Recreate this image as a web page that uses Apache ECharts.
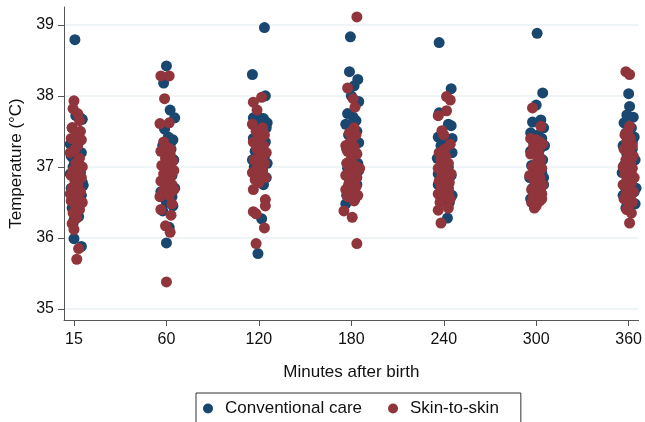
<!DOCTYPE html>
<html>
<head>
<meta charset="utf-8">
<script src="https://cdn.jsdelivr.net/npm/echarts@6/dist/echarts.min.js"></script>
<style>
  html, body { margin: 0; padding: 0; background: #fff; }
  #chart { width: 645px; height: 422px; }
</style>
</head>
<body>
<div id="chart"></div>
<script>
// minutes after birth (evenly spaced categories)
var times = ['15', '60', '120', '180', '240', '300', '360'];
var yTicks = [35, 36, 37, 38, 39];

// [jitter, temperature] per time point, conventional care
var cc15 = [[0.01,38.79],[0.0,35.99],[0.08,35.88],[0.02,37.72],[0.06,37.70],[0.09,37.67],[-0.02,37.55],[0.04,37.48],[-0.04,37.32],[0.03,37.28],[0.08,37.20],[-0.03,37.15],[0.05,37.05],[-0.01,37.00],[0.07,36.92],[0.02,36.85],[0.09,36.78],[0.1,36.74],[-0.03,36.70],[0.04,36.62],[0.01,36.55],[0.06,36.48],[-0.02,36.42],[0.03,36.35],[0.05,36.30],[0.0,36.25],[-0.04,36.9],[0.07,37.38],[0.0,37.1],[0.08,36.6],[-0.01,36.2]];
var cc60 = [[0.0,38.42],[-0.03,38.18],[0.04,37.80],[0.09,37.69],[-0.02,37.53],[0.07,37.38],[0.02,37.42],[-0.04,37.30],[0.05,37.25],[0.01,37.15],[0.08,37.10],[-0.03,37.02],[0.03,36.95],[0.06,36.88],[-0.05,36.80],[0.02,36.72],[0.09,36.70],[-0.02,36.62],[0.04,36.55],[0.0,36.5],[0.07,36.45],[-0.04,36.38],[0.03,36.15],[0.0,35.93],[0.05,37.35],[-0.06,36.65],[0.06,36.58],[0.01,37.2]];
var cc120 = [[0.06,38.96],[-0.07,38.3],[0.07,38.0],[-0.06,37.69],[0.0,37.70],[0.05,37.68],[0.09,37.62],[-0.03,37.58],[0.03,37.50],[-0.06,37.40],[0.07,37.35],[0.0,37.30],[-0.04,37.22],[0.06,37.15],[0.02,37.10],[0.09,37.05],[-0.05,37.00],[0.04,36.95],[-0.02,36.90],[0.08,36.85],[0.0,36.80],[0.05,36.75],[-0.03,36.9],[0.03,36.27],[-0.01,35.78],[0.02,37.45],[-0.07,37.1],[0.08,37.55]];
var cc180 = [[-0.01,38.83],[-0.02,38.34],[0.07,38.23],[0.03,38.14],[0.0,38.0],[0.08,37.92],[-0.04,37.75],[0.02,37.70],[0.05,37.65],[-0.06,37.60],[0.0,37.55],[0.06,37.50],[-0.03,37.45],[0.03,37.40],[0.08,37.34],[-0.05,37.25],[0.01,37.15],[0.07,37.05],[-0.04,36.98],[0.03,36.90],[-0.02,36.82],[0.06,36.75],[0.0,36.68],[-0.05,36.6],[0.04,36.55],[-0.06,36.48],[0.02,36.62],[0.05,37.2],[0.08,36.95]];
var cc240 = [[-0.05,38.75],[0.08,38.10],[-0.05,37.76],[0.08,37.58],[0.05,37.6],[-0.06,37.42],[0.0,37.38],[0.06,37.35],[-0.03,37.30],[0.03,37.25],[0.09,37.20],[-0.07,37.12],[0.0,37.05],[0.05,37.0],[-0.04,36.95],[0.08,36.88],[0.02,36.82],[-0.06,36.75],[0.05,36.70],[0.0,36.65],[0.09,36.6],[-0.03,36.55],[0.06,36.5],[0.04,36.28],[-0.02,37.15],[0.09,37.4],[-0.06,36.9]];
var cc300 = [[0.01,38.88],[0.07,38.04],[0.0,37.87],[-0.04,37.63],[0.05,37.66],[0.08,37.55],[-0.06,37.48],[0.02,37.45],[0.06,37.40],[-0.03,37.35],[0.09,37.30],[-0.06,37.22],[0.03,37.15],[0.07,37.10],[-0.05,37.02],[0.0,36.98],[0.06,36.92],[-0.07,36.85],[0.03,36.80],[0.08,36.75],[-0.04,36.70],[0.05,36.65],[0.0,36.6],[-0.06,36.55],[0.04,37.25],[0.08,36.85]];
var cc360 = [[0.0,38.03],[0.01,37.85],[-0.02,37.73],[0.05,37.7],[-0.05,37.62],[0.03,37.55],[-0.03,37.48],[0.06,37.42],[0.0,37.38],[-0.06,37.30],[0.04,37.25],[-0.02,37.18],[0.07,37.1],[-0.05,37.02],[0.02,36.98],[-0.07,36.92],[0.05,36.85],[0.0,36.78],[-0.04,36.72],[0.06,36.65],[-0.06,36.6],[0.02,36.55],[0.07,36.48],[-0.03,36.42],[0.04,37.35],[0.08,36.7]];

// skin-to-skin
var ss15 = [[0.0,37.93],[-0.01,37.82],[0.04,37.75],[0.06,37.65],[-0.02,37.55],[0.07,37.50],[0.03,37.45],[-0.03,37.40],[0.08,37.38],[0.01,37.25],[-0.04,37.20],[0.06,37.12],[0.02,37.05],[0.09,37.0],[-0.01,36.95],[0.05,36.92],[-0.03,36.88],[0.08,36.85],[0.01,36.80],[0.04,36.75],[-0.02,36.70],[0.07,36.65],[0.0,36.60],[0.05,36.55],[-0.03,36.52],[0.09,36.50],[0.02,36.45],[0.06,36.40],[-0.01,36.35],[0.03,36.28],[-0.02,36.20],[0.0,36.12],[0.05,35.85],[0.03,35.70],[-0.04,36.62],[0.04,37.3]];
var ss60 = [[-0.06,38.28],[0.03,38.28],[-0.02,37.96],[0.03,37.62],[-0.07,37.61],[-0.03,37.35],[0.0,37.28],[-0.06,37.22],[0.04,37.18],[-0.01,37.12],[0.07,37.08],[-0.05,37.02],[0.02,36.98],[0.08,36.95],[-0.03,36.90],[0.05,36.88],[0.0,36.85],[-0.06,36.80],[0.06,36.75],[0.02,36.70],[-0.04,36.65],[0.08,36.68],[-0.07,36.58],[0.03,36.60],[0.06,36.48],[-0.06,36.40],[0.05,36.32],[-0.01,36.17],[0.04,36.08],[0.0,35.38],[0.01,37.05],[-0.02,36.78],[0.04,37.25]];
var ss120 = [[0.03,37.98],[-0.06,37.91],[-0.02,37.80],[-0.07,37.60],[0.04,37.55],[-0.03,37.50],[0.06,37.45],[0.0,37.40],[-0.06,37.35],[0.05,37.30],[-0.02,37.25],[0.08,37.20],[0.02,37.15],[-0.05,37.10],[0.06,37.05],[-0.01,37.00],[0.04,36.95],[-0.07,36.92],[0.02,36.88],[0.07,36.85],[-0.04,36.82],[0.0,36.78],[-0.06,36.68],[0.07,36.54],[0.07,36.45],[-0.06,36.37],[-0.03,36.34],[0.06,36.14],[-0.03,35.92],[0.03,37.12],[-0.02,36.98]];
var ss180 = [[0.06,39.11],[-0.04,38.11],[0.02,37.96],[0.04,37.84],[0.03,37.55],[-0.02,37.48],[0.05,37.45],[0.01,37.40],[-0.06,37.30],[0.03,37.28],[-0.04,37.22],[0.06,37.18],[0.0,37.12],[-0.05,37.05],[0.04,37.02],[0.09,36.98],[-0.02,36.95],[0.03,36.92],[-0.06,36.88],[0.06,36.85],[0.0,36.80],[-0.03,36.75],[0.05,36.72],[-0.06,36.68],[0.02,36.65],[0.07,36.6],[-0.04,36.58],[0.03,36.52],[-0.08,36.38],[0.01,36.29],[0.06,35.92],[0.0,36.9],[-0.01,37.35]];
var ss240 = [[0.03,37.99],[0.07,37.94],[0.03,37.79],[-0.06,37.72],[-0.02,37.51],[0.0,37.45],[0.07,37.32],[-0.05,37.20],[0.02,37.15],[-0.03,37.10],[0.05,37.05],[0.0,37.00],[-0.06,36.98],[0.04,36.95],[0.08,36.90],[-0.02,36.88],[0.03,36.85],[-0.05,36.80],[0.06,36.78],[0.0,36.75],[-0.03,36.70],[0.05,36.65],[-0.06,36.62],[0.02,36.58],[0.07,36.55],[-0.04,36.50],[-0.06,36.39],[0.05,36.42],[-0.03,36.21],[0.01,37.25],[0.04,36.68]];
var ss300 = [[-0.04,37.83],[0.05,37.57],[-0.06,37.40],[0.0,37.38],[0.04,37.35],[0.07,37.32],[-0.03,37.28],[0.02,37.22],[-0.06,37.18],[0.05,37.10],[0.0,37.05],[-0.04,37.00],[0.06,36.98],[0.02,36.92],[-0.07,36.88],[0.04,36.85],[-0.02,36.80],[0.07,36.75],[0.0,36.70],[-0.05,36.68],[0.05,36.65],[0.02,36.60],[-0.03,36.58],[0.06,36.55],[-0.05,36.50],[0.04,36.52],[0.0,36.45],[-0.02,36.42],[0.06,36.62],[0.03,37.15]];
var ss360 = [[-0.03,38.34],[0.01,38.30],[0.01,37.57],[-0.04,37.45],[0.02,37.40],[-0.02,37.35],[0.04,37.30],[-0.05,37.25],[0.0,37.20],[0.05,37.15],[-0.03,37.10],[0.02,37.05],[-0.06,37.00],[0.04,36.98],[0.0,36.95],[-0.04,36.90],[0.06,36.85],[-0.02,36.82],[0.03,36.78],[-0.06,36.75],[0.01,36.70],[0.05,36.65],[-0.03,36.62],[0.02,36.58],[-0.05,36.55],[0.04,36.50],[0.0,36.45],[-0.02,36.40],[0.03,36.35],[0.01,36.21],[-0.01,37.5],[0.03,36.9]];

var ccAll = [cc15, cc60, cc120, cc180, cc240, cc300, cc360];
var ssAll = [ss15, ss60, ss120, ss180, ss240, ss300, ss360];

function toPoints(groups) {
  var out = [];
  groups.forEach(function (g, i) {
    g.forEach(function (p) {
      out.push([i + p[0], p[1]]);
    });
  });
  return out;
}

var navy = '#1a476f', maroon = '#90353b';
var font = 'Liberation Sans, Arial, sans-serif';

var chart = echarts.init(document.getElementById('chart'), null, { renderer: 'canvas' });
var option = {
  animation: false,
  backgroundColor: '#fff',
  textStyle: { fontFamily: font },
  grid: { left: 64, right: 4, top: 7, bottom: 102 },
  legend: {
    left: 196,
    top: 393,
    padding: [7, 22, 14, 7],
    borderColor: '#333',
    borderWidth: 1,
    borderRadius: 0,
    itemGap: 26,
    itemWidth: 10,
    itemHeight: 10,
    icon: 'circle',
    textStyle: { fontSize: 17, color: '#111', fontFamily: font, padding: [0, 0, 0, 7] },
    data: ['Conventional care', 'Skin-to-skin']
  },
  xAxis: {
    type: 'value',
    min: -0.108,
    max: 6.108,
    name: 'Minutes after birth',
    nameLocation: 'middle',
    nameGap: 44,
    nameTextStyle: { fontSize: 17, color: '#111', fontFamily: font },
    axisLine: { show: true, onZero: false, lineStyle: { color: '#555', width: 1 } },
    axisTick: { show: true, length: 6, lineStyle: { color: '#555' }, customValues: [0, 1, 2, 3, 4, 5, 6] },
    axisLabel: {
      fontSize: 16, color: '#111', margin: 12, fontFamily: font,
      customValues: [0, 1, 2, 3, 4, 5, 6],
      formatter: function (v) { return times[Math.round(v)]; }
    },
    splitLine: { show: false }
  },
  yAxis: {
    type: 'value',
    min: 34.845,
    max: 39.25,
    name: 'Temperature (°C)',
    nameLocation: 'middle',
    nameGap: 36,
    nameTextStyle: { fontSize: 17, color: '#111', fontFamily: font },
    axisLine: { show: true, onZero: false, lineStyle: { color: '#555', width: 1 } },
    axisTick: { show: true, length: 6, lineStyle: { color: '#555' }, customValues: yTicks },
    axisLabel: { fontSize: 16, color: '#111', margin: 10, fontFamily: font, customValues: yTicks },
    splitLine: { show: false }
  },
  series: [
    {
      name: 'Conventional care',
      type: 'scatter',
      symbolSize: 11,
      itemStyle: { color: navy, opacity: 1 },
      data: toPoints(ccAll),
      markLine: {
        silent: true,
        symbol: 'none',
        label: { show: false },
        lineStyle: { color: '#eaf2f3', width: 1.5, type: 'solid' },
        data: yTicks.map(function (t) { return { yAxis: t }; }),
        z: 0
      },
      z: 2
    },
    {
      name: 'Skin-to-skin',
      type: 'scatter',
      symbolSize: 11,
      itemStyle: { color: maroon, opacity: 1 },
      data: toPoints(ssAll),
      z: 3
    }
  ]
};
chart.setOption(option);
</script>
</body>
</html>
